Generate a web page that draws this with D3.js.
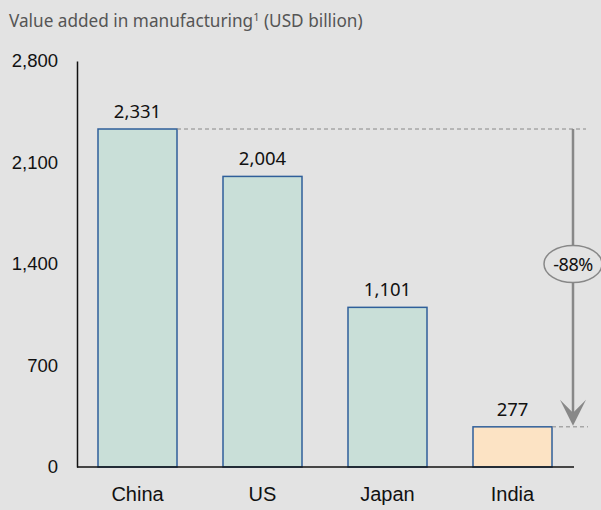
<!DOCTYPE html>
<html>
<head>
<meta charset="utf-8">
<script src="https://cdn.jsdelivr.net/npm/d3@7"></script>
<style>
  body { margin: 0; background: #e3e3e3; }
  svg { display: block; font-family: "Noto Sans", "Open Sans", sans-serif; }
</style>
</head>
<body>
<div id="chart"></div>
<script>
var countries = ["China", "US", "Japan", "India"];
var values = [2331, 2004, 1101, 277];
var barColors = ["#c9dfd8", "#c9dfd8", "#c9dfd8", "#fce3c4"];
var yTicks = [0, 700, 1400, 2100, 2800];
var changeLabel = "-88%";

var width = 601, height = 510;

var svg = d3.select("#chart").append("svg")
    .attr("width", width)
    .attr("height", height);

svg.append("rect").attr("width", width).attr("height", height).attr("fill", "#e3e3e3");

var title = svg.append("text")
    .attr("x", 9)
    .attr("y", 27)
    .attr("fill", "#555")
    .style("font-size", "17.2px");
title.append("tspan").text("Value added in manufacturing");
title.append("tspan").attr("dy", -6).style("font-size", "11px").text("1");
title.append("tspan").attr("dy", 6).text(" (USD billion)");

var y = d3.scaleLinear().domain([0, 2800]).range([467, 61]);
var x = d3.scaleBand().domain(countries).range([77, 573]).paddingInner(0.368).paddingOuter(0.168);

// y axis
var yAxis = svg.append("g")
    .attr("transform", "translate(77,0)")
    .call(d3.axisLeft(y).tickValues(yTicks).tickSize(0).tickPadding(19).tickFormat(d3.format(",")));
yAxis.select(".domain").attr("stroke", "#111").attr("stroke-width", 1.5);
yAxis.selectAll("text").style("font-size", "18.5px").attr("fill", "#111").style("font-family", "inherit");

// bars
svg.selectAll(".bar")
    .data(values)
    .enter()
    .append("rect")
    .attr("class", "bar")
    .attr("x", (d, i) => x(countries[i]))
    .attr("y", (d) => y(d))
    .attr("width", x.bandwidth())
    .attr("height", (d) => y(0) - y(d))
    .attr("fill", (d, i) => barColors[i])
    .attr("stroke", "#2f5f9a")
    .attr("stroke-width", 1.5);

// x axis
var xAxis = svg.append("g")
    .attr("transform", "translate(0," + y(0) + ")")
    .call(d3.axisBottom(x).tickSize(0).tickPadding(20));
xAxis.select(".domain").attr("stroke", "#111").attr("stroke-width", 1.5)
    .attr("d", "M77,0H574");
xAxis.selectAll("text").style("font-size", "20px").attr("fill", "#111").style("font-family", "inherit");

// value labels
svg.selectAll(".val")
    .data(values)
    .enter()
    .append("text")
    .attr("x", (d, i) => x(countries[i]) + x.bandwidth() / 2)
    .attr("y", (d) => y(d) - 11)
    .attr("text-anchor", "middle")
    .attr("fill", "#111")
    .style("font-size", "18.5px")
    .text(d3.format(","));

// change annotation
var first = values[0], last = values[values.length - 1];
var arrowX = 573;
var g = svg.append("g").attr("stroke", "#888").attr("fill", "none");
g.append("line")
    .attr("x1", x(countries[0]) + x.bandwidth()).attr("x2", 586)
    .attr("y1", y(first)).attr("y2", y(first))
    .attr("stroke-dasharray", "4,3").attr("stroke-width", 1);
g.append("line")
    .attr("x1", x(countries[3]) + x.bandwidth()).attr("x2", 588)
    .attr("y1", y(last)).attr("y2", y(last))
    .attr("stroke-dasharray", "4,3").attr("stroke-width", 1);
g.append("line")
    .attr("x1", arrowX).attr("x2", arrowX)
    .attr("y1", y(first)).attr("y2", y(last) - 12)
    .attr("stroke-width", 2.5);
g.append("path")
    .attr("d", "M" + (arrowX - 13) + "," + (y(last) - 27) + " L" + arrowX + "," + (y(last) - 1) +
        " L" + (arrowX + 13) + "," + (y(last) - 27) + " L" + arrowX + "," + (y(last) - 14) + "Z")
    .attr("fill", "#888").attr("stroke", "none");

var midY = 264;
g.append("ellipse")
    .attr("cx", arrowX).attr("cy", midY)
    .attr("rx", 29).attr("ry", 18.5)
    .attr("fill", "#e3e3e3").attr("stroke-width", 1.5);
svg.append("text")
    .attr("x", arrowX).attr("y", midY + 6.5)
    .attr("text-anchor", "middle")
    .attr("fill", "#111")
    .style("font-size", "18px")
    .style("letter-spacing", "-0.5px")
    .text(changeLabel);
</script>
</body>
</html>
